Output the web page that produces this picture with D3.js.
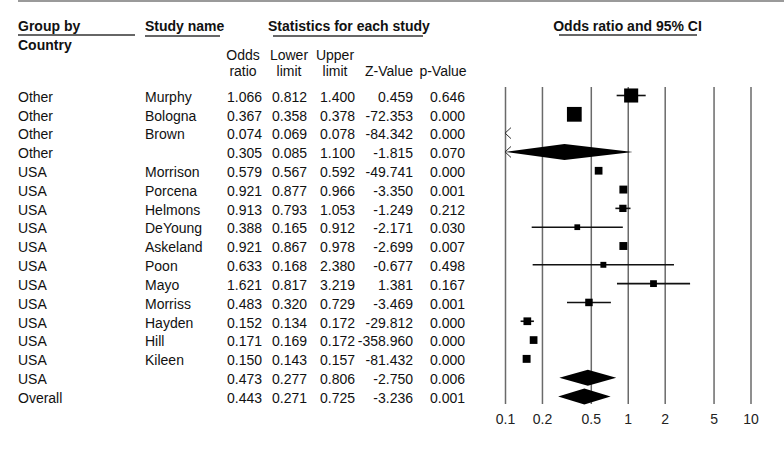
<!DOCTYPE html>
<html>
<head>
<meta charset="utf-8">
<script src="https://cdn.jsdelivr.net/npm/d3@7"></script>
<style>
  html, body { margin: 0; padding: 0; background: #fff; }
  svg { display: block; font-family: "Liberation Sans", Arial, sans-serif; }
</style>
</head>
<body>
<svg id="chart" width="784" height="475"></svg>
<script>
// ---- data ----
const groups   = ["Other","Other","Other","Other","USA","USA","USA","USA","USA","USA","USA","USA","USA","USA","USA","USA","Overall"];
const studies  = ["Murphy","Bologna","Brown","","Morrison","Porcena","Helmons","DeYoung","Askeland","Poon","Mayo","Morriss","Hayden","Hill","Kileen","",""];
const oddsRatio = [1.066,0.367,0.074,0.305,0.579,0.921,0.913,0.388,0.921,0.633,1.621,0.483,0.152,0.171,0.150,0.473,0.443];
const lowerLim  = [0.812,0.358,0.069,0.085,0.567,0.877,0.793,0.165,0.867,0.168,0.817,0.320,0.134,0.169,0.143,0.277,0.271];
const upperLim  = [1.400,0.378,0.078,1.100,0.592,0.966,1.053,0.912,0.978,2.380,3.219,0.729,0.172,0.172,0.157,0.806,0.725];
const zValues   = ["0.459","-72.353","-84.342","-1.815","-49.741","-3.350","-1.249","-2.171","-2.699","-0.677","1.381","-3.469","-29.812","-358.960","-81.432","-2.750","-3.236"];
const pValues   = ["0.646","0.000","0.000","0.070","0.000","0.001","0.212","0.030","0.007","0.498","0.167","0.001","0.000","0.000","0.000","0.006","0.001"];
const isSummary = [false,false,false,true,false,false,false,false,false,false,false,false,false,false,false,true,true];
const weights   = [30,33,33,0,9,9.5,8,5,9.5,5.3,7,8.5,9,9,9.5,0,0];
const tickValues = [0.1,0.2,0.5,1,2,5,10];
const tickLabels = ["0.1","0.2","0.5","1","2","5","10"];

const svg = d3.select("#chart");
const FS = 14;
const ink = "#111";

const rows = groups.map((g,i)=>({i, g, s:studies[i], or:oddsRatio[i], lo:lowerLim[i], hi:upperLim[i],
  z:zValues[i], p:pValues[i], sum:isSummary[i], w:weights[i]}));

// scales
const x = d3.scaleLog().domain([0.1, 10]).range([505, 750.5]);
const y = d3.scalePoint().domain(d3.range(rows.length)).range([95.5, 396.5]);
const size = d3.scaleSqrt().domain([0, 35]).range([0, 15.2]);
const fmt = d3.format(".3f");

// top rule
svg.append("line").attr("x1",18).attr("x2",784).attr("y1",1).attr("y2",1)
  .attr("stroke","#9a9a9a").attr("stroke-width",2);

// bold headers
const hdr = [
  {t:"Group by", x:18, anchor:"start", ux1:18, ux2:135, uy:35},
  {t:"Study name", x:145, anchor:"start", ux1:145, ux2:220, uy:36},
  {t:"Statistics for each study", x:268, anchor:"start", ux1:273, ux2:423, uy:36},
  {t:"Odds ratio and 95% CI", x:627.5, anchor:"middle", ux1:559, ux2:697, uy:35}
];
hdr.forEach(h=>{
  svg.append("text").attr("x",h.x).attr("y",31).attr("text-anchor",h.anchor)
    .attr("font-size",FS).attr("font-weight","bold").attr("fill",ink).text(h.t);
  svg.append("line").attr("x1",h.ux1).attr("x2",h.ux2).attr("y1",h.uy).attr("y2",h.uy)
    .attr("stroke","#333").attr("stroke-width",1.5);
});
svg.append("text").attr("x",18).attr("y",49.5).attr("font-size",FS).attr("font-weight","bold")
  .attr("fill",ink).text("Country");

// column headers
const colHdr = [
  {l1:"Odds", l2:"ratio", x:243, a:"middle"},
  {l1:"Lower", l2:"limit", x:289, a:"middle"},
  {l1:"Upper", l2:"limit", x:335, a:"middle"},
  {l1:"", l2:"Z-Value", x:413, a:"end"},
  {l1:"", l2:"p-Value", x:443, a:"middle"}
];
colHdr.forEach(c=>{
  if (c.l1) svg.append("text").attr("x",c.x).attr("y",60).attr("text-anchor",c.a)
    .attr("font-size",FS).attr("fill",ink).text(c.l1);
  svg.append("text").attr("x",c.x).attr("y",75.5).attr("text-anchor",c.a)
    .attr("font-size",FS).attr("fill",ink).text(c.l2);
});

// table rows
const cols = [
  {key:d=>d.g, x:18, a:"start"},
  {key:d=>d.s, x:145, a:"start"},
  {key:d=>fmt(d.or), x:262, a:"end"},
  {key:d=>fmt(d.lo), x:307, a:"end"},
  {key:d=>fmt(d.hi), x:355, a:"end"},
  {key:d=>d.z, x:413, a:"end"},
  {key:d=>d.p, x:465, a:"end"}
];
const tbl = svg.append("g");
cols.forEach(c=>{
  tbl.selectAll(null).data(rows).join("text")
    .attr("x",c.x).attr("y",d=>y(d.i)+6.3).attr("text-anchor",c.a)
    .attr("font-size",FS).attr("fill",ink).text(c.key);
});

// grid / axis
const axis = d3.axisBottom(x).tickValues(tickValues)
  .tickFormat((d,i)=>tickLabels[i]).tickSize(-(404-87)).tickPadding(10);
const ag = svg.append("g").attr("transform","translate(0,404)").call(axis);
ag.select(".domain").remove();
ag.selectAll(".tick line").attr("stroke","#6a6a6a").attr("stroke-width",1.5);
ag.selectAll(".tick text").attr("font-size",FS).attr("fill","#222")
  .attr("font-family","'Liberation Sans', Arial, sans-serif");

const xmin = 0.1, xmax = 10;
const clampX = v => x(Math.max(xmin, Math.min(xmax, v)));
const plot = svg.append("g");

function chevron(yc){
  const x0 = x(xmin);
  plot.append("path").attr("d",`M${x0+6},${yc-5.5}L${x0},${yc}L${x0+6},${yc+5.5}`)
    .attr("fill","none").attr("stroke","#333").attr("stroke-width",1);
}

rows.forEach(d=>{
  const yc = y(d.i);
  if (d.sum) {
    const h = 8;
    plot.append("path")
      .attr("d",`M${clampX(d.lo)},${yc}L${x(d.or)},${yc-h}L${clampX(d.hi)},${yc}L${x(d.or)},${yc+h}Z`)
      .attr("fill","#000");
    if (d.lo < xmin) chevron(yc);
  } else if (d.hi < xmin) {
    chevron(yc);
  } else {
    plot.append("line").attr("x1",clampX(d.lo)).attr("x2",clampX(d.hi))
      .attr("y1",yc).attr("y2",yc).attr("stroke","#111").attr("stroke-width",1.6);
    if (d.lo < xmin) chevron(yc);
    const s = size(d.w);
    plot.append("rect").attr("x",x(d.or)-s/2).attr("y",yc-s/2)
      .attr("width",s).attr("height",s).attr("fill","#000");
  }
});
</script>
</body>
</html>
